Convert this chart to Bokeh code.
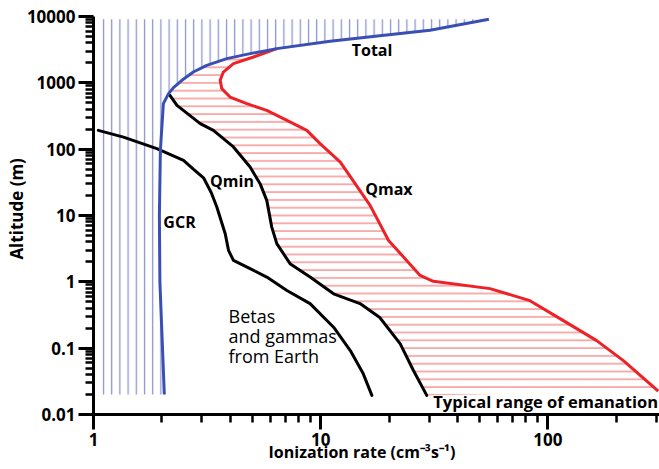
from bokeh.plotting import figure
from bokeh.models import Range1d, CustomJSTickFormatter, FixedTicker
from bokeh.embed import file_html
from bokeh.resources import INLINE
from bokeh.core.properties import value

# ---- data ----
total_x = [2.05, 1.96, 1.95, 1.97, 2.03, 2.14, 2.25, 2.45, 2.75, 3.15, 3.86, 4.89, 6.41, 11.0, 18.2, 30.3, 55.0]
total_y = [0.02, 1, 10, 96, 485, 687, 847, 1091, 1455, 1837, 2317, 2755, 3280, 4230, 5120, 6200, 9080]

qmax_x = [6.41, 5.06, 4.13, 3.73, 3.61, 3.67, 3.99, 4.73, 5.79, 7.1, 8.69, 9.94, 12.2, 16.5, 19.9,
          23.9, 27.4, 31.3, 55.6, 83.4, 117, 164, 215, 306]
qmax_y = [3280, 2449, 1950, 1455, 1091, 818, 611, 485, 385, 272, 192, 121, 63.8, 14.2, 4.2,
          2.1, 1.25, 1.02, 0.79, 0.52, 0.26, 0.13, 0.065, 0.0225]

qmin_x = [2.17, 2.33, 2.95, 3.37, 4.13, 4.89, 5.41, 5.79, 6.09, 6.41, 7.33, 8.98, 11.4, 14.9, 18.2, 22.4, 25.6, 29.3]
qmin_y = [648, 458, 243, 192, 108, 53.7, 30.2, 16.9, 6.68, 3.76, 1.88, 1.18, 0.66, 0.47, 0.29, 0.116, 0.046, 0.0194]

earth_x = [1.05, 1.355, 1.90, 2.49, 2.75, 3.05, 3.3, 3.49, 3.80, 3.93, 4.13, 4.89, 5.79, 7.1, 8.98, 11.4, 13.5, 15.4, 16.8]
earth_y = [192, 152, 102, 67.8, 50, 37, 22, 13.4, 5.3, 2.98, 2.1, 1.58, 1.18, 0.74, 0.47, 0.207, 0.092, 0.041, 0.0194]

hatch_left_x = 1.05

y_ticks = [0.01, 0.1, 1, 10, 100, 1000, 10000]
x_ticks = [1, 10, 100]
minor_steps = [2, 3, 4, 5, 6, 7, 8, 9]

# annotation texts
curve_labels = ["Total", "Qmin", "GCR", "Qmax"]
curve_label_x = [13.7, 3.26, 2.03, 15.7]
curve_label_y = [3150, 33.3, 8.1, 25.2]

note_labels = ["Betas", "and gammas", "from Earth"]
note_label_x = [3.93, 3.93, 3.93]
note_label_y = [0.31, 0.155, 0.076]

range_label = ["Typical range of emanation"]
range_label_x = [31.3]
range_label_y = [0.0157]

x_title = "Ionization rate (cm\u207b\u00b3s\u207b\u00b9)"
y_title = "Altitude (m)"

FONT = "Open Sans"
BLUE = "#3a4fb4"
BLUE_HATCH = "#7f89c9"
RED = "#ec2228"
RED_HATCH = "#f26a6a"

p = figure(width=659, height=469, x_axis_type="log", y_axis_type="log",
           x_range=Range1d(1, 310), y_range=Range1d(0.01, 10000),
           output_backend="svg", toolbar_location=None,
           min_border_left=93, min_border_right=0, min_border_top=16, min_border_bottom=55)
p.grid.visible = False
p.outline_line_color = None
p.background_fill_color = "white"

# ---- hatched regions built from the curves ----
blue_xs = [hatch_left_x, hatch_left_x] + total_x[::-1]
blue_ys = [total_y[0], total_y[-1]] + total_y[::-1]
p.patch(blue_xs, blue_ys, fill_alpha=0, line_alpha=0,
        hatch_pattern="|", hatch_color=BLUE_HATCH, hatch_scale=8.2, hatch_weight=1.3, hatch_alpha=0.9)

top_x = [x for x, y in zip(total_x, total_y) if qmin_y[0] < y < qmax_y[0]]
top_y = [y for y in total_y if qmin_y[0] < y < qmax_y[0]]
red_xs = qmax_x + qmin_x[::-1] + top_x
red_ys = qmax_y + qmin_y[::-1] + top_y
p.patch(red_xs, red_ys, fill_alpha=0, line_alpha=0,
        hatch_pattern="-", hatch_color=RED_HATCH, hatch_scale=7.8, hatch_weight=1.2, hatch_alpha=0.9)

# ---- curves ----
p.line(qmax_x, qmax_y, line_color=RED, line_width=3, line_join="round")
p.line(earth_x, earth_y, line_color="black", line_width=3, line_join="round", line_cap="round")
p.line(qmin_x, qmin_y, line_color="black", line_width=3, line_join="round", line_cap="round")
p.line(total_x, total_y, line_color=BLUE, line_width=3, line_join="round")

# ---- texts ----
p.text(curve_label_x, curve_label_y, text=curve_labels, text_font=value(FONT), text_font_style="bold",
       text_font_size="16px", text_color="black", text_baseline="alphabetic", text_align="left")
p.text(note_label_x, note_label_y, text=note_labels, text_font=value(FONT), text_font_style="normal",
       text_font_size="18px", text_color="black", text_baseline="alphabetic", text_align="left")
p.text(range_label_x, range_label_y, text=range_label, text_font=value(FONT), text_font_style="bold",
       text_font_size="16.5px", text_color="black", text_baseline="alphabetic", text_align="left")

# ---- axes ----
def minor_of(majors):
    return [m * t for t in majors for m in minor_steps]

p.xaxis[0].ticker = FixedTicker(ticks=x_ticks, minor_ticks=minor_of(x_ticks))
p.yaxis[0].ticker = FixedTicker(ticks=y_ticks, minor_ticks=minor_of(y_ticks[:-1]))

fmt = CustomJSTickFormatter(code="return tick >= 1 ? tick.toFixed(0) : tick.toPrecision(1);")
for ax in (p.xaxis[0], p.yaxis[0]):
    ax.formatter = fmt
    ax.axis_line_width = 3
    ax.axis_line_color = "black"
    ax.major_tick_in = 0
    ax.major_tick_out = 15
    ax.minor_tick_in = 0
    ax.minor_tick_out = 8
    ax.major_tick_line_width = 3
    ax.minor_tick_line_width = 2.5
    ax.major_label_text_font = FONT
    ax.major_label_text_font_style = "bold"
    ax.major_label_text_font_size = "17px"
    ax.major_label_text_color = "black"
    ax.major_label_standoff = 3
    ax.axis_label_text_font = FONT
    ax.axis_label_text_font_style = "bold"
    ax.axis_label_text_color = "black"

# trailing / leading no-break spaces nudge the centred titles to where the reference has them
p.xaxis[0].axis_label = x_title + "\u00a0" * 7
p.xaxis[0].axis_label_text_font_size = "16px"
p.xaxis[0].axis_label_standoff = -8
p.yaxis[0].axis_label = "\u00a0" * 3 + y_title
p.yaxis[0].axis_label_text_font_size = "17px"
p.yaxis[0].axis_label_standoff = -4

open("out.html", "w").write(file_html(p, INLINE))
